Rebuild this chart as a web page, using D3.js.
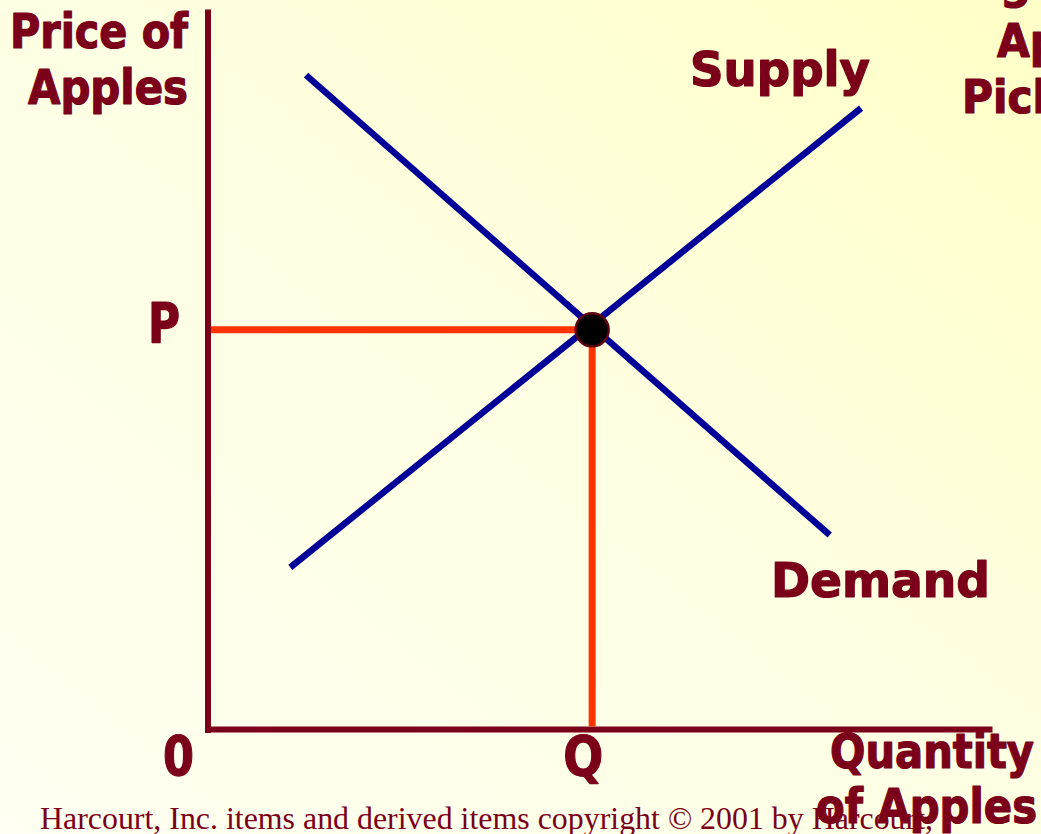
<!DOCTYPE html>
<html>
<head>
<meta charset="utf-8">
<script src="https://cdn.jsdelivr.net/npm/d3@7"></script>
<style>
  html, body { margin: 0; padding: 0; overflow: hidden; }
  svg { display: block; }
</style>
</head>
<body>
<svg></svg>
<script>
// supply / demand diagram, values in a 0..100 space on both axes
const supplyQ = [10.5, 83.3]
const supplyP = [22.6, 86.6]
const demandQ = [12.5, 79.3]
const demandP = [91.2, 27.1]
const eqQ = 49
const eqP = 55.7

const yTitle = ['Price of', 'Apples']
const xTitle = ['Quantity', 'of Apples']
const curveNames = ['Supply', 'Demand']
const pointLabels = ['P', 'Q', '0']
const cornerTitle = ['g', 'Apple', 'Picking']
const credit = 'Harcourt, Inc. items and derived items copyright \u00a9 2001 by Harcourt,'

const
    svgWidth = 1041,
    svgHeight = 834,
    LEFT = 208,
    RIGHT = 992,
    TOP = 12,
    BOTTOM = 729.5,
    INK = '#7b0019',
    BLUE = '#000099',
    RED = '#ff3300'

const BOLD = '"DejaVu Sans Condensed", "DejaVu Sans", sans-serif'

let svg = d3.select('svg')
    .attr('width', svgWidth)
    .attr('height', svgHeight)

let defs = svg.append('defs')
let grad = defs.append('linearGradient')
    .attr('id', 'bg')
    .attr('x1', '0%').attr('y1', '100%')
    .attr('x2', '100%').attr('y2', '0%')
grad.append('stop').attr('offset', '0%').attr('stop-color', '#fffff2')
grad.append('stop').attr('offset', '55%').attr('stop-color', '#ffffe2')
grad.append('stop').attr('offset', '100%').attr('stop-color', '#ffffc6')

svg.append('rect')
    .attr('width', svgWidth)
    .attr('height', svgHeight)
    .attr('fill', 'url(#bg)')

let x = d3.scaleLinear().domain([0, 100]).range([LEFT, RIGHT])
let y = d3.scaleLinear().domain([0, 100]).range([BOTTOM, TOP])

// axes: only the domain lines, no ticks
let yAxis = d3.axisLeft(y).tickValues([]).tickSizeOuter(0)
let xAxis = d3.axisBottom(x).tickValues([]).tickSizeOuter(0)

svg.append('g')
    .attr('transform', `translate(${LEFT - 0.5}, 0)`)
    .call(yAxis)
    .call(g => g.select('.domain').attr('stroke', INK).attr('stroke-width', 6).attr('stroke-linecap', 'square'))

svg.append('g')
    .attr('transform', `translate(0, ${BOTTOM - 0.5})`)
    .call(xAxis)
    .call(g => g.select('.domain').attr('stroke', INK).attr('stroke-width', 6))

// guide lines to the equilibrium
let guides = svg.append('g').attr('stroke', RED).attr('stroke-width', 7)
guides.append('line')
    .attr('x1', x(0) + 3).attr('x2', x(eqQ))
    .attr('y1', y(eqP)).attr('y2', y(eqP))
guides.append('line')
    .attr('x1', x(eqQ)).attr('x2', x(eqQ))
    .attr('y1', y(eqP)).attr('y2', y(0) - 3)

// curves
let line = d3.line().x(d => x(d[0])).y(d => y(d[1]))
let curves = [d3.zip(supplyQ, supplyP), d3.zip(demandQ, demandP)]
svg.selectAll('path.curve')
    .data(curves)
    .enter()
    .append('path')
        .attr('class', 'curve')
        .attr('d', line)
        .attr('fill', 'none')
        .attr('stroke', BLUE)
        .attr('stroke-width', 6.5)

svg.append('circle')
    .attr('cx', x(eqQ))
    .attr('cy', y(eqP))
    .attr('r', 16.5)
    .attr('fill', '#000')
    .attr('stroke', '#5e0010')
    .attr('stroke-width', 2.5)

// text
function label(txt, px, py, size, width, anchor) {
    let t = svg.append('text')
        .attr('x', px)
        .attr('y', py)
        .attr('fill', INK)
        .attr('stroke', INK)
        .attr('stroke-width', 1.2)
        .attr('stroke-linejoin', 'round')
        .attr('font-family', BOLD)
        .attr('font-weight', 'bold')
        .attr('font-size', size)
        .attr('text-anchor', anchor || 'start')
        .text(txt)
    if (width) t.attr('textLength', width).attr('lengthAdjust', 'spacingAndGlyphs')
    return t
}

// credit line sits underneath the axis title
svg.append('text')
    .attr('x', 40)
    .attr('y', 829)
    .attr('fill', '#7b0019')
    .attr('font-family', '"Liberation Serif", "Times New Roman", serif')
    .attr('font-size', 31)
    .attr('textLength', 893)
    .attr('lengthAdjust', 'spacingAndGlyphs')
    .text(credit)

label(yTitle[0], 10, 48, 48, 178)
label(yTitle[1], 28, 104, 48, 160)
label(curveNames[0], 690, 86, 48, 180)
label(curveNames[1], 771, 597, 48, 219)
label(xTitle[0], 830, 768, 48, 204)
label(xTitle[1], 816, 823, 48, 221)

label(pointLabels[0], 148, y(eqP) + 12.5, 55, 32)
label(pointLabels[1], x(eqQ) - 9, 775, 55, 40, 'middle')
label(pointLabels[2], 163, 775, 55, 31)

label(cornerTitle[0], 1000, -2, 48)
label(cornerTitle[1], 997, 57, 47)
label(cornerTitle[2], 962, 113, 47)
</script>
</body>
</html>
